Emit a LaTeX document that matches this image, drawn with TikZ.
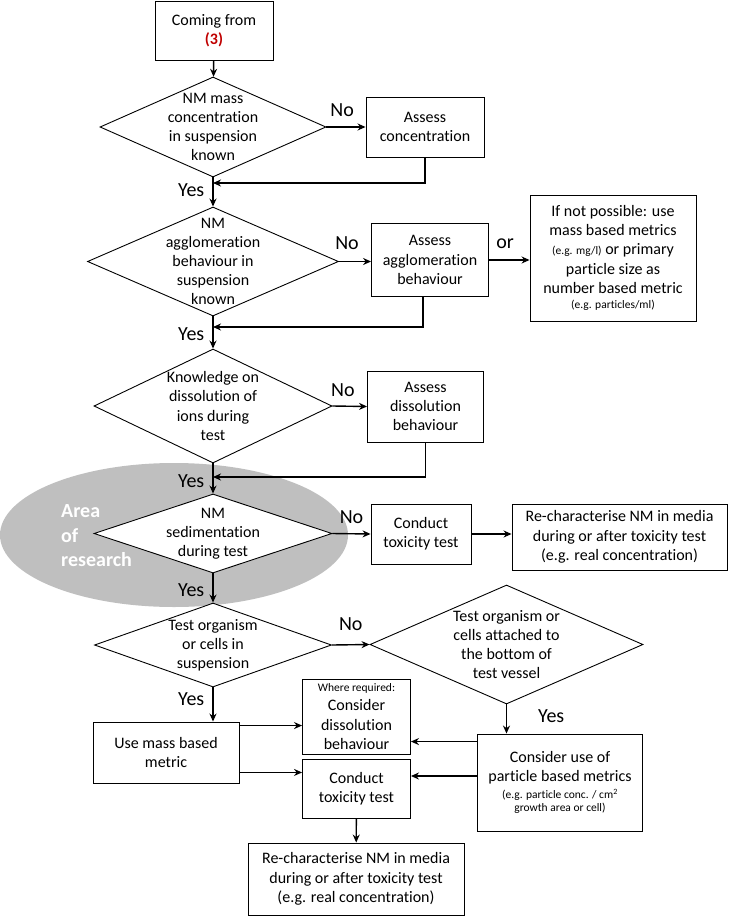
\documentclass[tikz,border=0pt]{standalone}
\usepackage{fontspec}
\setmainfont{Carlito}[Ligatures=NoCommon]
\usetikzlibrary{shapes.geometric,arrows.meta,calc}

\newcommand{\sm}{\fontsize{11.5}{13.5}\selectfont}

\begin{document}
\begin{tikzpicture}[x=1pt, y=-1pt,
    box/.style={draw, line width=0.9pt, fill=white, align=center, inner sep=2pt, font=\fontsize{16}{19.2}\selectfont},
    decision/.style={diamond, draw, line width=0.9pt, fill=white, inner sep=0pt},
    dtext/.style={align=center, inner sep=0pt, font=\fontsize{16}{19.2}\selectfont},
    arr/.style={-{Stealth[length=8pt,width=7pt]}, line width=1.4pt},
    lbl/.style={inner sep=1pt, font=\fontsize{20}{24}\selectfont}]
    \useasboundingbox (0,0) rectangle (728,918);

    % 灰色椭圆: 研究区域
    \fill[black!25] (174,535) ellipse [x radius=174pt, y radius=72pt];
    \node[anchor=west, inner sep=0pt, align=left, text=white,
          font=\fontsize{20}{24.5}\selectfont\bfseries] (area) at (61,536) {Area\\of\\research};

    % 起点
    \node[box, minimum width=118pt, minimum height=59pt] (b0) at (214,30.5)
        {Coming from\\{\color[HTML]{C00000}\bfseries (3)}};

    % 判断框
    \node[decision, minimum width=226pt, minimum height=100pt,
          label={[dtext]center:{NM mass\\concentration\\in suspension\\known}}] (d1) at (213,127) {};
    \node[decision, minimum width=251pt, minimum height=109pt,
          label={[dtext]center:{NM\\agglomeration\\behaviour in\\suspension\\known}}] (d2) at (213,261.5) {};
    \node[decision, minimum width=238pt, minimum height=114pt,
          label={[dtext]center:{Knowledge on\\dissolution of\\ions during\\test}}] (d3) at (213,406) {};
    \node[decision, minimum width=238pt, minimum height=79pt,
          label={[dtext]center:{NM\\sedimentation\\during test}}] (d4) at (213,533.5) {};
    \node[decision, minimum width=237pt, minimum height=84pt,
          label={[dtext]center:{Test organism\\or cells in\\suspension}}] (d5) at (213,645) {};
    \node[decision, minimum width=273pt, minimum height=119pt,
          label={[dtext]center:{Test organism or\\cells attached to\\the bottom of\\test vessel}}] (d6) at (506.5,644.5) {};

    % 操作框
    \node[box, minimum width=118pt, minimum height=60pt] (a1) at (425,127) {Assess\\concentration};
    \node[box, minimum width=117pt, minimum height=73pt] (a2) at (430,260) {Assess\\agglomeration\\behaviour};
    \node[box, minimum width=166pt, minimum height=126pt] (np) at (613,258)
        {If not possible: use\\mass based metrics\\{\sm (e.g. mg/l)} or primary\\particle size as\\number based metric\\[-4pt]{\sm (e.g. particles/ml)}};
    \node[box, minimum width=116pt, minimum height=71pt] (a3) at (425.5,406.5) {Assess\\dissolution\\behaviour};
    \node[box, minimum width=100pt, minimum height=60pt] (t1) at (421,534) {Conduct\\toxicity test};
    \node[box, minimum width=215pt, minimum height=66pt] (r1) at (619.5,537)
        {Re-characterise NM in media\\during or after toxicity test\\(e.g. real concentration)};
    \node[box, minimum width=146pt, minimum height=61pt] (um) at (166,752.5) {Use mass based\\metric};
    \node[box, minimum width=108pt, minimum height=75pt] (wr) at (356.5,716.5)
        {{\sm Where required:}\\Consider\\dissolution\\behaviour};
    \node[box, minimum width=108pt, minimum height=59pt] (t2) at (356.5,788.5) {Conduct\\toxicity test};
    \node[box, minimum width=165pt, minimum height=97pt] (cu) at (560,782.5)
        {Consider use of\\particle based metrics\\[-2pt]{\sm (e.g. particle conc. / cm\textsuperscript{2}}\\[-6pt]{\sm growth area or cell)}};
    \node[box, minimum width=216pt, minimum height=72pt] (r2) at (356,879)
        {Re-characterise NM in media\\during or after toxicity test\\(e.g. real concentration)};

    % 汇合点
    \coordinate (j1) at (213,183);
    \coordinate (j2) at (213,327);
    \coordinate (j3) at (213,477);

    % 主干 Yes 箭头
    \draw[arr] (b0) -- (d1);
    \foreach \u/\v/\p in {d1/d2/0.43, d2/d3/0.55, d3/d4/0.6, d4/d5/0.57} {
        \draw[arr] (\u.south) -- (\v.north) node[lbl, left=7pt, pos=\p] (y\u) {Yes};
    }

    % No 分支
    \draw[arr] (d1.east) -- (a1.west) node[lbl, above=9pt, pos=0.4] (n1) {No};
    \draw[arr] (d2.east) -- (d2.east -| a2.west) node[lbl, above=10pt, pos=0.25] (n2) {No};
    \draw[arr] (d3.east) -- (a3.west) node[lbl, above=8pt, pos=0.3] (n3) {No};
    \draw[arr] (d4.east) -- (t1.west) node[lbl, above=8pt, pos=0.5] (n4) {No};
    \draw[arr] (d5.east) -- (d6.west) node[lbl, above=12pt, pos=0.5] (n5) {No};
    \draw[arr] (a2.east) -- (a2.east -| np.west) node[lbl, above=10pt, pos=0.4] (or) {or};
    \draw[arr] (t1.east) -- (t1.east -| r1.west);

    % 返回主干
    \draw[arr] (a1.south) |- (j1);
    \draw[arr] ([xshift=-7pt]a2.south) |- (j2);
    \draw[arr] (a3.south) |- (j3);

    % 底部
    \draw[arr] (d5.south) -- (d5.south |- um.north) node[lbl, left=7pt, pos=0.35] (y5) {Yes};
    \draw[arr] (d6.south) -- (d6.south |- cu.north) node[lbl, right=30pt, pos=0.4] (y6) {Yes};
    \draw[arr] ([yshift=-4pt]um.north east) -- ([yshift=-4pt]um.north east -| wr.west);
    \draw[arr] ([yshift=11pt]um.south east) -- ([yshift=11pt]um.south east -| t2.west);
    \draw[arr] ([yshift=-8pt]cu.north west) -- ([yshift=-8pt]cu.north west -| wr.east);
    \draw[arr] ([yshift=6.5pt]cu.west) -- ([yshift=6.5pt]cu.west -| t2.east);
    \draw[arr] (t2) -- (r2);
\end{tikzpicture}
\end{document}
